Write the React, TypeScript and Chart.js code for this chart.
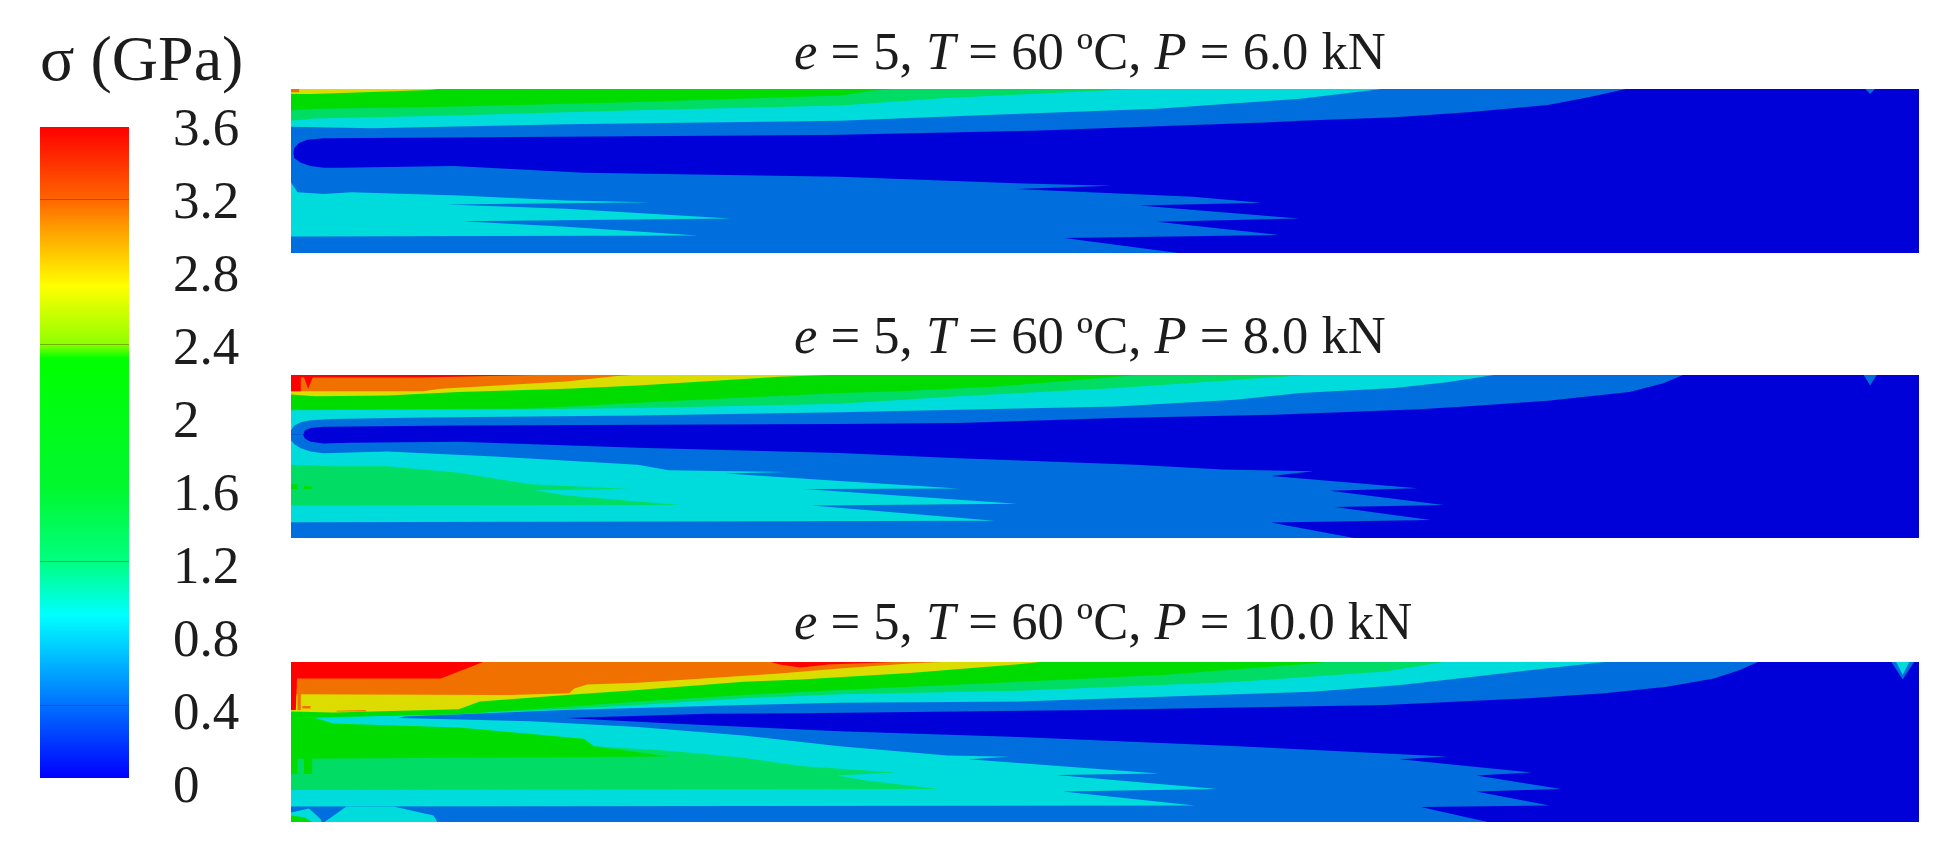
import React, { useEffect, useRef } from "react";
import { Chart, registerables } from "chart.js";

Chart.register(...registerables);

type Pt = [number, number];

// ---------- contour palette ----------
const DARK = "#0000d8";
const BLUE = "#006edc";
const CYAN = "#00dcdc";
const SEA = "#00dc64";
const GREEN = "#00dc00";
const YELLOW = "#dcdc00";
const ORANGE = "#f07000";
const RED = "#ff0000";

// ---------- colour bar ----------
const tickValues = [0, 0.4, 0.8, 1.2, 1.6, 2, 2.4, 2.8, 3.2, 3.6];
const bandLines = [0.4, 1.2, 2.4, 3.2];
const stopValues = [0, 0.4, 0.9, 1.2, 1.6, 2.32, 2.4, 2.72, 3.05, 3.2, 3.6];
const stopColors = ["#0000ff", "#0070ff", "#00ffff", "#00ff80", "#00f830", "#00ff00", "#90ff00", "#ffff00", "#ff9a00", "#ff6400", "#ff0000"];

// ---------- domain: x = % of length, y = % of depth from the top ----------
const domain: Pt[] = [[0, 0], [100, 0], [100, 100], [0, 100]];

// Panel 1: P = 6.0 kN
const p1BlueUpper: Pt[] = [[0, 0], [0, 39], [0.15, 39], [0.2, 36], [0.5, 33], [1, 31], [2, 30], [33, 28], [45.5, 25.5], [59.8, 20.4], [62, 19.4], [67.8, 17.3], [72.5, 14], [77.2, 9.8], [79.7, 5.1], [82, 0]];
const p1BlueLower: Pt[] = [[0, 100], [0, 39], [0.15, 39], [0.2, 42], [0.6, 45], [1.2, 47], [2, 48], [3, 48], [10, 47], [18, 51], [33.7, 53.5], [44.5, 57.5], [50.4, 59], [44.5, 61], [55.4, 65.7], [59.6, 69.4], [52.1, 71], [61.9, 79], [53.2, 81], [60.7, 89], [47.5, 90.8], [54.5, 100]];
const p1Notch: Pt[] = [[96.7, 0], [97.3, 0], [97, 3]];
const p1CyanUpper: Pt[] = [[0, 0], [0, 23], [5, 24], [16.9, 21.5], [33.7, 19.4], [42.3, 16], [53.2, 12], [62, 6], [67, 0]];
const p1CyanLower: Pt[] = [[0, 90], [0, 57], [0.4, 63], [2, 64], [3.7, 63], [10.3, 65], [16.9, 68], [22, 69], [9.6, 70.4], [16.9, 73], [27, 79], [10.5, 80.6], [16.9, 84], [25, 89.4], [0, 90]];
const p1SeaUpper: Pt[] = [[0, 0], [0, 19.4], [1.5, 18], [10.3, 16], [21.3, 13], [33.7, 10], [40, 5.7], [46.7, 2.4], [52, 0]];
const p1GreenUpper: Pt[] = [[0, 0], [0, 13], [1.5, 12], [10.3, 10.6], [21.3, 8], [33.7, 4], [35.7, 1], [37, 0]];
const p1YellowUpper: Pt[] = [[0, 0], [0, 3], [1.3, 3], [8.5, 0.6], [9, 0]];
const p1OrangeCorner: Pt[] = [[0, 0], [0.5, 0], [0.5, 2], [0, 2]];

// Panel 2: P = 8.0 kN
const p2BlueUpper: Pt[] = [[0, 0], [0, 36.6], [0.75, 36.6], [0.85, 34], [1.2, 32.5], [2, 31.7], [10.3, 31], [33.7, 30], [41, 29.5], [50.7, 26.4], [60.4, 24.4], [69.3, 21], [72.1, 19.3], [77.2, 15.8], [82.2, 10.4], [84.3, 5], [85.5, 0]];
const p2BlueLower: Pt[] = [[0, 100], [0, 36.6], [0.75, 36.6], [0.85, 39], [1.2, 41], [2, 42], [3.7, 41.5], [10.3, 41], [21.3, 44.7], [33.7, 47.8], [41, 51], [51.9, 55], [57.2, 58], [62.8, 59], [60.2, 62], [69.2, 69.5], [63.8, 71], [70.8, 79.7], [64.1, 81], [70, 89], [60.2, 90.5], [65.3, 100]];
const p2Notch: Pt[] = [[96.6, 0], [97.4, 0], [97, 6.5]];
const p2CyanUpper: Pt[] = [[0, 0], [0, 34], [0.2, 31], [0.6, 29], [1.2, 27.7], [2.5, 27], [8.1, 26], [21.3, 24.8], [33.7, 22.8], [41, 21.3], [50.7, 19.3], [58, 15.2], [62, 11], [67.8, 8], [71, 4.5], [73.9, 0]];
const p2CyanLower: Pt[] = [[0, 90.4], [0, 40], [0.2, 42.5], [0.6, 45], [1.2, 47], [2, 48], [5.9, 47], [12.5, 50], [21.3, 55], [23.2, 58.5], [30.5, 59.5], [26.7, 60.5], [33.7, 65], [41, 69.7], [31.5, 70], [44.6, 79], [32, 80], [43.2, 89.4]];
const p2SeaUpper: Pt[] = [[0, 0], [0, 21.7], [14.7, 21], [21.3, 20.3], [33.7, 17.7], [41, 13], [50.7, 8], [58, 3], [62.4, 0]];
const p2SeaLower: Pt[] = [[0, 80], [0, 55], [2.6, 56], [5.9, 56], [10.3, 60], [14.7, 67], [20.8, 70], [15, 70.7], [16.9, 74], [23.9, 79.7]];
const p2GreenUpper: Pt[] = [[0, 0], [0, 21.3], [14.7, 20.5], [23.4, 16], [33.7, 11], [37.3, 10], [43.4, 7], [50.7, 1], [52, 0]];
const p2GreenSpotA: Pt[] = [[0, 67], [0.4, 67], [0.4, 70], [0, 70]];
const p2GreenSpotB: Pt[] = [[0.8, 68], [1.3, 68.5], [1.3, 70], [0.8, 70]];
const p2YellowUpper: Pt[] = [[0, 0], [0, 12], [1.5, 13], [5.9, 12.6], [10.3, 10.5], [16.9, 8.5], [21.3, 6.5], [30, 1], [33, 0]];
const p2OrangeUpper: Pt[] = [[0, 0], [0, 10], [8.1, 10], [9.2, 8.5], [16.9, 4], [20, 0.6], [21, 0]];
const p2RedBlock: Pt[] = [[0, 0], [0.6, 0], [0.6, 10], [0, 10]];
const p2RedSpike: Pt[] = [[0.75, 0], [1.4, 0], [1.05, 8.5]];
const p2RedTop: Pt[] = [[0, 0], [15, 0], [8, 1.5], [0, 1.5]];

// Panel 3: P = 10.0 kN
const p3BlueUpper: Pt[] = [[0, 0], [0, 35], [16.9, 35], [25.6, 32.4], [31.3, 32], [49.2, 30], [67.2, 26.8], [76, 22.6], [80.7, 19.6], [84.5, 15.5], [87.4, 10.3], [89, 5], [90.1, 0]];
const p3BlueLower: Pt[] = [[0, 100], [0, 35], [16.9, 35], [23.4, 38.5], [33.7, 43.3], [44.7, 46.8], [58.2, 52.6], [71, 59], [68.1, 60.8], [76.2, 69], [72.8, 71], [78, 79.4], [72.8, 81], [77.3, 89.7], [69.4, 90.7], [73.5, 100]];
const p3Notch: Pt[] = [[98.3, 0], [99.7, 0], [99, 11]];
const p3NotchInner: Pt[] = [[98.6, 0], [99.4, 0], [99, 8]];
const p3CyanUpper: Pt[] = [[0, 0], [0, 35], [6.6, 35], [7, 34], [16.9, 30], [27.8, 26.8], [33.7, 25.4], [44.7, 24.7], [62.7, 18.6], [68, 14.5], [71.7, 10.3], [76.2, 5], [80.7, 0]];
const p3CyanLower: Pt[] = [[0, 90.3], [0, 35], [6.6, 35], [14.7, 37], [21.3, 40.6], [27.8, 46], [33.7, 52.6], [40.3, 58.4], [44.1, 59.2], [41.6, 60.8], [53.3, 69.7], [47, 70.7], [56.9, 79.4], [47.4, 81], [55.5, 89.7]];
const p3CyanFootA: Pt[] = [[2.06, 100], [3.4, 90.3], [6.3, 90.3], [8.75, 96], [9, 100]];
const p3CyanFootB: Pt[] = [[0, 94], [1.1, 91.5], [1.8, 98], [1.9, 100], [0, 100]];
const p3SeaUpper: Pt[] = [[0, 0], [0, 35], [1.5, 35], [8.1, 33], [16.9, 29.5], [21.3, 26.8], [27.8, 22.7], [33.7, 20.2], [44.7, 18], [58.2, 12.4], [67.2, 6], [70.8, 0]];
const p3SeaLower: Pt[] = [[0, 80], [0, 52], [18.6, 52.6], [23.4, 55.7], [27.8, 59.8], [31.3, 65], [37.1, 69], [33.5, 71], [35.3, 74], [39.8, 79.4]];
const p3GreenUpper: Pt[] = [[0, 0], [0, 35], [1.5, 34.5], [10.3, 32.6], [16.9, 28], [21.3, 24.7], [27.8, 20.6], [33.7, 17.5], [42.5, 13.4], [53.7, 8], [62.7, 1], [63.5, 0]];
const p3GreenLower: Pt[] = [[0, 35], [1.5, 35], [2.6, 38.5], [10.3, 41], [18, 48], [18.6, 52.6], [23.2, 59], [0, 60.4]];
const p3GreenStubA: Pt[] = [[0, 60], [0.4, 60], [0.4, 70], [0, 70]];
const p3GreenStubB: Pt[] = [[0.8, 60], [1.3, 60], [1.3, 70], [0.8, 70]];
const p3GreenFoot: Pt[] = [[0, 96], [0.8, 97], [1.3, 100], [0, 100]];
const p3YellowUpper: Pt[] = [[0, 0], [0, 31], [2.6, 31.5], [10.3, 29.5], [11.6, 24.7], [16.9, 20.6], [21.3, 17.5], [27.8, 12.4], [31.3, 11], [38, 6.8], [44.7, 1.4], [46, 0]];
const p3OrangeUpper: Pt[] = [[0, 0], [0, 20.2], [13.4, 20.6], [17.1, 19.6], [17.4, 16.5], [18.2, 14], [21.3, 13], [30, 7.2], [33.7, 4.1], [38, 1], [40, 0]];
const p3OrangeStrip: Pt[] = [[0.4, 0], [0.6, 0], [0.6, 30], [0.4, 30]];
const p3OrangeDot: Pt[] = [[0.7, 27.5], [1.2, 27.5], [1.2, 29], [0.7, 29]];
const p3OrangeStreak: Pt[] = [[2.8, 30.5], [4.6, 30], [4.6, 31], [2.8, 31]];
const p3RedUpper: Pt[] = [[0, 0], [11.8, 0], [9.2, 10.3], [0, 10.3]];
const p3RedSliver: Pt[] = [[0, 0], [0.4, 0], [0.3, 30], [0, 30]];
const p3RedTop: Pt[] = [[29.5, 0], [37, 0], [33, 1.5], [31.3, 3.5], [30, 1.5]];

type Region = [string, Pt[]];

const panel1Regions: Region[] = [
  [DARK, domain], [BLUE, p1BlueUpper], [BLUE, p1BlueLower], [BLUE, p1Notch],
  [CYAN, p1CyanUpper], [CYAN, p1CyanLower], [SEA, p1SeaUpper], [GREEN, p1GreenUpper],
  [YELLOW, p1YellowUpper], [ORANGE, p1OrangeCorner],
];
const panel2Regions: Region[] = [
  [DARK, domain], [BLUE, p2BlueUpper], [BLUE, p2BlueLower], [BLUE, p2Notch],
  [CYAN, p2CyanUpper], [CYAN, p2CyanLower], [SEA, p2SeaUpper], [SEA, p2SeaLower],
  [GREEN, p2GreenUpper], [GREEN, p2GreenSpotA], [GREEN, p2GreenSpotB],
  [YELLOW, p2YellowUpper], [ORANGE, p2OrangeUpper], [RED, p2RedBlock], [RED, p2RedSpike], [RED, p2RedTop],
];
const panel3Regions: Region[] = [
  [DARK, domain], [BLUE, p3BlueUpper], [BLUE, p3BlueLower], [BLUE, p3Notch], [CYAN, p3NotchInner],
  [CYAN, p3CyanUpper], [CYAN, p3CyanLower], [CYAN, p3CyanFootA], [CYAN, p3CyanFootB],
  [SEA, p3SeaUpper], [SEA, p3SeaLower],
  [GREEN, p3GreenUpper], [GREEN, p3GreenLower], [GREEN, p3GreenStubA], [GREEN, p3GreenStubB], [GREEN, p3GreenFoot],
  [YELLOW, p3YellowUpper], [ORANGE, p3OrangeUpper], [ORANGE, p3OrangeStrip], [ORANGE, p3OrangeDot], [ORANGE, p3OrangeStreak],
  [RED, p3RedUpper], [RED, p3RedSliver], [RED, p3RedTop],
];

const FONT = "'Liberation Serif', serif";
const SOFT = "blur(0.7px)";

function Panel({ regions, top, height }: { regions: Region[]; top: number; height: number }) {
  const ref = useRef<HTMLCanvasElement>(null);
  useEffect(() => {
    const chart = new Chart(ref.current!, {
      type: "scatter",
      data: {
        // Chart.js paints the first dataset last, so the painter's order is reversed here.
        datasets: regions
          .map(([color, pts]) => ({
            data: pts.map(([x, y]) => ({ x, y })),
            showLine: true,
            fill: "shape",
            backgroundColor: color,
            borderWidth: 0,
            pointRadius: 0,
            tension: 0,
          }))
          .reverse(),
      },
      options: {
        animation: false,
        responsive: false,
        events: [],
        layout: { padding: 0 },
        plugins: { legend: { display: false }, tooltip: { enabled: false }, title: { display: false } },
        scales: {
          x: { type: "linear", min: 0, max: 100, display: false },
          y: { type: "linear", min: 0, max: 100, reverse: true, display: false },
        },
      },
    } as any);
    return () => chart.destroy();
  }, [regions]);
  return (
    <canvas
      ref={ref}
      width={1628}
      height={height}
      style={{ position: "absolute", left: 291, top, width: 1628, height, filter: SOFT }}
    />
  );
}

function ColourBar() {
  const ref = useRef<HTMLCanvasElement>(null);
  useEffect(() => {
    const chart = new Chart(ref.current!, {
      type: "bar",
      data: {
        labels: ["σ"],
        datasets: [
          {
            data: [[0, 3.6]],
            yAxisID: "bar",
            barPercentage: 1,
            categoryPercentage: 1,
            borderWidth: 0,
            backgroundColor: (c: any) => {
              const area = c.chart.chartArea;
              if (!area) return stopColors[0];
              const g = c.chart.ctx.createLinearGradient(0, area.bottom, 0, area.top);
              stopValues.forEach((v, i) => g.addColorStop(v / 3.6, stopColors[i]));
              return g;
            },
          },
        ],
      },
      options: {
        animation: false,
        responsive: false,
        events: [],
        layout: { padding: { left: 40, top: 47, bottom: 36, right: 0 } },
        plugins: { legend: { display: false }, tooltip: { enabled: false }, title: { display: false } },
        scales: {
          x: { type: "category", display: false },
          bar: {
            position: "left",
            min: 0,
            max: 3.6,
            afterFit: (s: any) => { s.width = 0; s.paddingTop = 0; s.paddingBottom = 0; },
            afterBuildTicks: (s: any) => { s.ticks = bandLines.map((value) => ({ value })); },
            border: { display: false },
            ticks: { display: false },
            grid: { z: 1, drawTicks: false, lineWidth: 1, color: "rgba(60,40,0,0.35)" },
          },
          // The printed scale runs slightly wider than the bar itself.
          y: {
            position: "right",
            min: 0.055,
            max: 3.622,
            afterFit: (s: any) => { s.width = 151; s.paddingTop = 0; s.paddingBottom = 0; },
            afterBuildTicks: (s: any) => { s.ticks = tickValues.map((value) => ({ value })); },
            border: { display: false },
            grid: { display: false, drawTicks: false },
            ticks: {
              padding: 44,
              color: "#1c1c1c",
              autoSkip: false,
              font: { family: FONT, size: 53 },
              callback: (v: any) => String(v),
            },
          },
        },
      },
    } as any);
    return () => chart.destroy();
  }, []);
  return (
    <canvas
      ref={ref}
      width={280}
      height={734}
      style={{ position: "absolute", left: 0, top: 80, width: 280, height: 734, filter: "blur(0.6px)" }}
    />
  );
}

function Title({ top, children }: { top: number; children: React.ReactNode }) {
  return (
    <div
      style={{
        position: "absolute",
        left: 794,
        top,
        font: `52.6px ${FONT}`,
        lineHeight: "54px",
        color: "#1c1c1c",
        whiteSpace: "nowrap",
        filter: "blur(0.5px)",
      }}
    >
      {children}
    </div>
  );
}

export default function App() {
  return (
    <div style={{ position: "absolute", left: 0, top: 0, width: 1946, height: 854, background: "#fff", overflow: "hidden" }}>
      <div style={{ position: "absolute", left: 40, top: 24, font: `64px ${FONT}`, lineHeight: "70px", color: "#1c1c1c", whiteSpace: "nowrap", filter: "blur(0.5px)" }}>
        σ (GPa)
      </div>
      <ColourBar />
      <Title top={24}><i>e</i> = 5, <i>T</i> = 60 ºC, <i>P</i> = 6.0 kN</Title>
      <Panel regions={panel1Regions} top={89} height={164} />
      <Title top={308}><i>e</i> = 5, <i>T</i> = 60 ºC, <i>P</i> = 8.0 kN</Title>
      <Panel regions={panel2Regions} top={375} height={163} />
      <Title top={594}><i>e</i> = 5, <i>T</i> = 60 ºC, <i>P</i> = 10.0 kN</Title>
      <Panel regions={panel3Regions} top={662} height={160} />
    </div>
  );
}
